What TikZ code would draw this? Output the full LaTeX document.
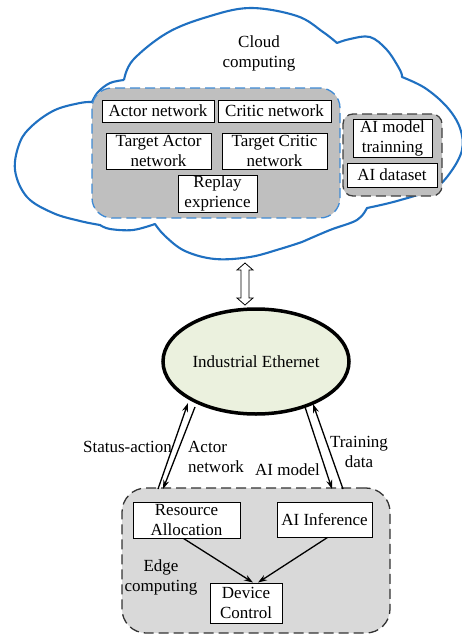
\documentclass[tikz,border=0pt]{standalone}
\usepackage{fontspec}
\setmainfont{Liberation Serif}
\usetikzlibrary{arrows.meta,shapes.geometric,calc}
\definecolor{cloudblue}{HTML}{1F70C1}
\definecolor{dashblue}{HTML}{3F8AD4}
\definecolor{boxgray}{HTML}{BFBFBF}
\definecolor{edgegray}{HTML}{D9D9D9}
\definecolor{ethgreen}{HTML}{EBF1DE}
\begin{document}
\begin{tikzpicture}[x=1pt,y=-1pt,
  every node/.style={font=\fontsize{17}{20}\selectfont},
  wbox/.style={draw=black, line width=0.9pt, fill=white, inner sep=0pt, align=center},
  arr/.style={line width=1.3pt, -{Stealth[length=9pt,width=6pt]}},
  cloudline/.style={draw=cloudblue, line width=2.1pt, line join=round},
  container/.style={line width=1.3pt, dash pattern=on 10pt off 5pt, inner sep=0pt},
]
\useasboundingbox (0,0) rectangle (462,637);
% cloud
\draw[cloudline]
  plot[smooth,tension=0.6] coordinates {(124,80) (133,60) (167,33) (207,17) (250,8) (297,16) (323,32) (337,43)}
  -- plot[smooth,tension=0.6] coordinates {(337,43) (350,39) (370,37) (387,50) (400,70) (402,77)}
  -- plot[smooth,tension=0.6] coordinates {(402,77) (425,88) (447,107) (460,128) (462,150) (450,173) (433,189) (397,201) (367,208)}
  -- plot[smooth,tension=0.6] coordinates {(367,208) (357,220) (330,230) (302,242)}
  -- plot[smooth,tension=0.6] coordinates {(302,242) (280,249) (250,257) (215,259) (185,251) (165,236) (155,224)}
  -- plot[smooth,tension=0.6] coordinates {(155,224) (133,230) (110,229) (100,225)}
  -- plot[smooth,tension=0.6] coordinates {(100,225) (80,221) (53,213) (27,197) (15,170) (20,142) (33,125) (55,110) (80,103) (92,102)}
  -- plot[smooth,tension=0.6] coordinates {(92,102) (98,92) (110,83) (124,80)};
\node at (259,53) [align=center] (cloudlbl) {Cloud\\computing};

% cloud containers
\node[container, draw=dashblue, fill=boxgray, rounded corners=20pt, minimum width=248pt, minimum height=130pt] (drl) at (216,153) {};
\node[container, draw=black!75, fill=boxgray, rounded corners=10pt, minimum width=99pt, minimum height=82pt] (aib) at (392.5,155) {};

\node[wbox, minimum width=112pt, minimum height=22pt] (an) at (158,111) {Actor network};
\node[wbox, minimum width=113pt, minimum height=22pt] (cn) at (274.5,111) {Critic network};
\node[wbox, minimum width=105pt, minimum height=36pt] (tan) at (158.5,151) {Target Actor\\network};
\node[wbox, minimum width=105pt, minimum height=36pt] (tcn) at (274.5,151) {Target Critic\\network};
\node[wbox, minimum width=79pt, minimum height=37pt] (rep) at (217.5,193.5) {Replay\\exprience};
\node[wbox, minimum width=79pt, minimum height=38pt] (amt) at (392.5,138) {AI model\\trainning};
\node[wbox, minimum width=90pt, minimum height=24pt] (ads) at (392,175) {AI dataset};

% ethernet
\node[ellipse, draw=black, line width=3.5pt, fill=ethgreen, minimum width=186pt, minimum height=105pt, inner sep=0pt] (eth) at (256,361.5) {Industrial Ethernet};

% hollow double arrow between cloud and ethernet
\coordinate (dtop) at (245,263);
\draw[fill=white, line width=0.8pt] (dtop) -- ++(8,7) -- ++(-4,0) -- ++(0,28) -- ++(4,0) -- ++(-8,7) -- ++(-8,-7) -- ++(4,0) -- ++(0,-28) -- ++(-4,0) -- cycle;

% edge container
\node[container, draw=black!80, fill=edgegray, rounded corners=24pt, minimum width=268pt, minimum height=145pt] (edge) at (256,560.5) {};
\node at (161,577) [align=center] (edgelbl) {Edge\\computing};
\node[wbox, minimum width=107pt, minimum height=36pt] (ra) at (186.5,520) {Resource\\Allocation};
\node[wbox, minimum width=95pt, minimum height=35pt] (aii) at (324.5,519.5) {AI Inference};
\node[wbox, minimum width=72pt, minimum height=40pt] (dc) at (246,603) {Device\\Control};

\draw[arr] ([xshift=-3pt]ra.south) -- ([xshift=7pt]dc.north);
\draw[arr] ([xshift=3pt]aii.south) -- ([xshift=12pt]dc.north);

% links ethernet <-> edge
\coordinate (l1s) at (158,489);
\coordinate (l1e) at (188,403);
\coordinate (l2s) at (195,407);
\coordinate (l2e) at (163,489);
\coordinate (r1s) at (305,407);
\coordinate (r1e) at (332,489);
\coordinate (r2s) at (343,489);
\coordinate (r2e) at (313,404);
\draw[arr] (l1s) -- (l1e);
\draw[arr] (l2s) -- (l2e);
\draw[arr] (r1s) -- (r1e);
\draw[arr] (r2s) -- (r2e);

\node at (127.5,447) (sa) {Status-action};
\node at (188,457) [anchor=west, align=left, inner sep=0pt] (anl) {Actor\\network};
\node at (287.5,470) (aml) {AI model};
\node at (359,452) [align=center] (tdl) {Training\\data};
\end{tikzpicture}
\end{document}
